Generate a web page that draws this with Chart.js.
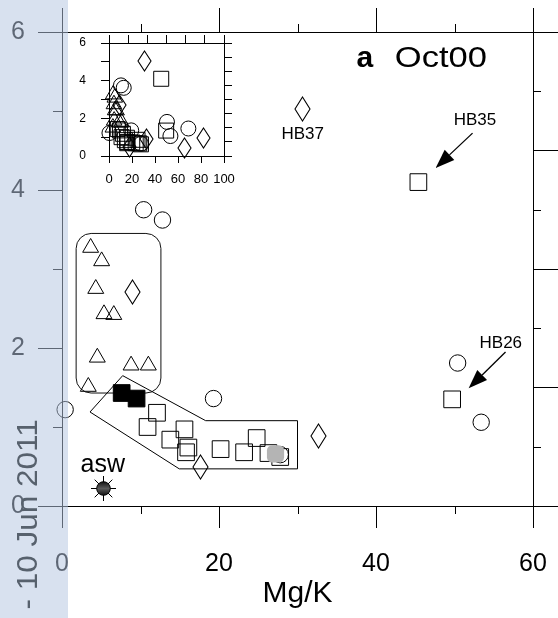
<!DOCTYPE html>
<html><head><meta charset="utf-8">
<script src="https://cdn.jsdelivr.net/npm/chart.js@4.4.1/dist/chart.umd.min.js"></script>
<style>
html,body{margin:0;padding:0;background:#fff;}
#wrap{position:relative;width:558px;height:618px;overflow:hidden;background:#fff;}
#main{position:absolute;left:0;top:0;}
#inset{position:absolute;left:70px;top:28px;}
</style></head><body>
<div id="wrap"><canvas id="main" width="558" height="618"></canvas><canvas id="inset" width="170" height="160"></canvas></div>
<script>
const FONT = "'Liberation Sans', Arial, Helvetica, sans-serif";

// ---------- data (x = Mg/K, y = ratio) ----------
const openCircles   = [[10.4,3.75],[12.8,3.62],[0.4,1.22],[19.3,1.36],[27.8,0.65],[50.4,1.81],[53.4,1.06]];
const openSquares   = [[45.4,4.10],[49.7,1.35],[12.1,1.18],[10.9,1.00],[15.6,0.97],[13.8,0.84],[16.1,0.74],[15.8,0.68],[20.2,0.72],[24.8,0.86],[23.2,0.68],[26.3,0.67],[27.8,0.62]];
const filledSquares = [[7.6,1.43],[9.5,1.36]];
const greyPoints    = [[27.2,0.66]];
const triangles     = [[3.65,3.27],[5.05,3.10],[4.3,2.75],[5.35,2.43],[6.6,2.42],[4.5,1.88],[8.8,1.78],[11.0,1.78],[3.35,1.51]];
const diamonds      = [[9.0,2.71],[30.7,5.03],[32.7,0.89],[17.6,0.49]];
const aswPoint      = [[5.3,0.22]];
// inset-only points (beyond the main x range)
const insetExtraCircles  = [[69,1.46]];
const insetExtraDiamonds = [[65.5,0.40],[82,0.93]];

// ---------- ticks ----------
const xMajorTicks = [0,20,40,60];
const xMinorTicks = [10,30,50];
const yMajorTicks = [0,2,4,6];
const yMinorTicks = [1,3,5];
const rightMajorTicks = [0,2,4,6,8];
const rightMinorTicks = [1,3,5,7];
const insetXTicks = [0,20,40,60,80,100];
const insetTopTicks = [0,10,20,30,40,50,60];
const insetYTicks = [0,1,2,3,4,5,6];
const insetYLabels = [0,2,4,6];
const insetRightTicks = [0,1,2,3,4,5,6,7,8];

// ---------- annotations (data units) ----------
const squareGroupOutline = [[7.73,1.65],[3.57,1.19],[14.94,0.47],[30.0,0.47],[30.0,1.08],[18.3,1.08],[7.73,1.65]];
const triangleGroupBox = [1.8,12.6,1.43,3.45]; // xmin,xmax,ymin,ymax
const sampleLabels = [['HB37',30.66,4.71],['HB35',52.6,4.88],['HB26',55.9,2.06]];
const arrows = [[52.3,4.72,47.6,4.28],[56.5,1.95,51.8,1.49]];
const panelTitle = [['a',37.5,5.56,'bold',1],['Oct00',42.4,5.56,'normal',1.15]];
const aswLabel = ['asw',5.2,0.52];
const sideNote = '- 10 Jun 2011';

function pts(a){return a.map(p=>({x:p[0],y:p[1]}));}
function makeDiamond(w,h){const c=document.createElement('canvas');c.width=w+2;c.height=h+2;const g=c.getContext('2d');
  g.strokeStyle='#000';g.lineWidth=1.1;g.beginPath();g.moveTo(c.width/2,1);g.lineTo(c.width-1,c.height/2);g.lineTo(c.width/2,c.height-1);g.lineTo(1,c.height/2);g.closePath();g.stroke();return c;}
function makeAsw(){const c=document.createElement('canvas');c.width=c.height=27;const g=c.getContext('2d');const cx=13.5,cy=13.5;
  g.strokeStyle='#000';g.lineWidth=1;
  for(let i=0;i<8;i++){const a=i*Math.PI/4;g.beginPath();g.moveTo(cx+Math.cos(a)*6,cy+Math.sin(a)*6);g.lineTo(cx+Math.cos(a)*12.5,cy+Math.sin(a)*12.5);g.stroke();}
  const gr=g.createLinearGradient(0,cy-7,0,cy+7);gr.addColorStop(0,'#111');gr.addColorStop(0.5,'#5a5a5a');gr.addColorStop(1,'#111');
  g.fillStyle=gr;g.beginPath();g.arc(cx,cy,6.8,0,Math.PI*2);g.fill();g.stroke();return c;}
function rrect(ctx,x,y,w,h,r){ctx.moveTo(x+r,y);ctx.arcTo(x+w,y,x+w,y+h,r);ctx.arcTo(x+w,y+h,x,y+h,r);ctx.arcTo(x,y+h,x,y,r);ctx.arcTo(x,y,x+w,y,r);ctx.closePath();}
function arrow(ctx,x1,y1,x2,y2){const a=Math.atan2(y2-y1,x2-x1),L=19,W=7;
  const bx=x2-Math.cos(a)*L,by=y2-Math.sin(a)*L;
  ctx.beginPath();ctx.moveTo(x1,y1);ctx.lineTo(bx,by);ctx.lineWidth=1.3;ctx.stroke();
  ctx.beginPath();ctx.moveTo(x2,y2);ctx.lineTo(bx+Math.sin(a)*W,by-Math.cos(a)*W);ctx.lineTo(bx-Math.sin(a)*W,by+Math.cos(a)*W);ctx.closePath();ctx.fill();}
function noPadH(s){s.paddingLeft=0;s.paddingRight=0;}
function noPadV(s){s.paddingTop=0;s.paddingBottom=0;}

const aswImg = makeAsw();
const diamondMain = makeDiamond(15,24);
const diamondInset = makeDiamond(13,20);
const open = {backgroundColor:'rgba(0,0,0,0)',borderColor:'#000',borderWidth:1,clip:false};

const crispImages = {id:'crispImages',
  beforeDatasetsDraw(chart){chart.ctx.imageSmoothingEnabled=false;},
  afterDatasetsDraw(chart){chart.ctx.imageSmoothingEnabled=true;}};

const mainAnno = {
  id:'mainAnno',
  beforeDatasetsDraw(chart){
    const {x,y}=chart.scales,ctx=chart.ctx;const [x0,x1,y0,y1]=triangleGroupBox;
    const l=x.getPixelForValue(x0),r=x.getPixelForValue(x1),t=y.getPixelForValue(y1),b=y.getPixelForValue(y0);
    ctx.save();ctx.strokeStyle='#111';ctx.lineWidth=1;ctx.beginPath();rrect(ctx,l,t,r-l,b-t,15);ctx.stroke();ctx.restore();
  },
  afterDatasetsDraw(chart){
    const {x,y}=chart.scales,ctx=chart.ctx;
    ctx.save();ctx.imageSmoothingEnabled=true;ctx.fillStyle='#000';ctx.strokeStyle='#000';
    ctx.font='17px '+FONT;ctx.textAlign='center';ctx.textBaseline='middle';
    sampleLabels.forEach(([t,vx,vy])=>ctx.fillText(t,x.getPixelForValue(vx),y.getPixelForValue(vy)));
    arrows.forEach(([a,b,c,d])=>arrow(ctx,x.getPixelForValue(a),y.getPixelForValue(b),x.getPixelForValue(c),y.getPixelForValue(d)));
    ctx.textAlign='left';ctx.textBaseline='alphabetic';
    panelTitle.forEach(([t,vx,vy,w,sx])=>{ctx.save();ctx.font=w+' 30px '+FONT;ctx.translate(x.getPixelForValue(vx),y.getPixelForValue(vy));ctx.scale(sx,1);ctx.fillText(t,0,0);ctx.restore();});
    ctx.font='25px '+FONT;ctx.textAlign='center';ctx.textBaseline='middle';
    ctx.fillText(aswLabel[0],x.getPixelForValue(aswLabel[1]),y.getPixelForValue(aswLabel[2]));
    ctx.restore();
  },
  afterDraw(chart){
    const {x,y,y2}=chart.scales,ctx=chart.ctx,a=chart.chartArea;
    ctx.save();ctx.strokeStyle='#000';ctx.lineWidth=1;ctx.beginPath();
    xMinorTicks.forEach(v=>{const p=Math.round(x.getPixelForValue(v))+0.5;ctx.moveTo(p,a.bottom);ctx.lineTo(p,a.bottom+8);ctx.moveTo(p,a.top);ctx.lineTo(p,a.top-8);});
    yMinorTicks.forEach(v=>{const p=Math.round(y.getPixelForValue(v))+0.5;ctx.moveTo(a.left,p);ctx.lineTo(a.left-9,p);});
    rightMinorTicks.forEach(v=>{const p=Math.round(y2.getPixelForValue(v))+0.5;ctx.moveTo(a.right,p);ctx.lineTo(a.right+8,p);});
    ctx.stroke();
    // light blue side strip
    ctx.fillStyle='rgba(180,198,225,0.52)';ctx.fillRect(0,0,68,chart.height);
    ctx.fillStyle='#57616d';ctx.font='30px '+FONT;ctx.translate(37,609.5);ctx.rotate(-Math.PI/2);ctx.scale(1.05,1);
    ctx.textAlign='left';ctx.textBaseline='alphabetic';ctx.fillText(sideNote,0,0);
    ctx.restore();
  }
};

new Chart(document.getElementById('main'),{
  type:'scatter',
  data:{datasets:[
    {data:pts(aswPoint),pointStyle:aswImg,pointRadius:13,borderColor:'#000',backgroundColor:'#000',clip:false},
    {data:pts(greyPoints),pointStyle:'rectRounded',pointRadius:10,backgroundColor:'#b4b4b4',borderColor:'#b4b4b4',borderWidth:0,clip:false},
    {data:pts(filledSquares),pointStyle:'rect',pointRadius:11.8,backgroundColor:'#000',borderColor:'#000',borderWidth:1,clip:false},
    Object.assign({data:pts(openSquares),pointStyle:'rect',pointRadius:11.8},open),
    Object.assign({data:pts(openCircles),pointStyle:'circle',pointRadius:8.2},open),
    Object.assign({data:pts(triangles),pointStyle:'triangle',pointRadius:9.2},open),
    Object.assign({data:pts(diamonds),pointStyle:diamondMain,pointRadius:12},open),
    {data:pts(squareGroupOutline),showLine:true,pointRadius:0,borderColor:'#000',backgroundColor:'rgba(0,0,0,0)',borderWidth:1,tension:0,fill:false}
  ]},
  options:{
    responsive:false,animation:false,devicePixelRatio:1,events:[],
    layout:{padding:0},
    plugins:{legend:{display:false},tooltip:{enabled:false},colors:{enabled:false}},
    scales:{
      x:{type:'linear',position:'bottom',min:0,max:60,
        afterBuildTicks:s=>{s.ticks=xMajorTicks.map(v=>({value:v}));},
        ticks:{font:{family:FONT,size:25},color:'#000',padding:21,maxRotation:0},
        grid:{drawOnChartArea:false,tickLength:22,tickColor:'#000',tickWidth:1},
        border:{color:'#000',width:1},
        title:{display:true,text:'Mg/K',font:{family:FONT,size:30},color:'#000',padding:{top:0,bottom:6}},
        afterFit:s=>{s.height=112;noPadH(s);}},
      x2:{type:'linear',position:'top',min:0,max:60,
        afterBuildTicks:s=>{s.ticks=xMajorTicks.map(v=>({value:v}));},
        ticks:{display:false},
        grid:{drawOnChartArea:false,tickLength:24,tickColor:'#000'},
        border:{color:'#000',width:1},
        afterFit:s=>{s.height=32;noPadH(s);}},
      y:{type:'linear',position:'left',min:0,max:6,
        afterBuildTicks:s=>{s.ticks=yMajorTicks.map(v=>({value:v}));},
        ticks:{font:{family:FONT,size:25},color:'#000',padding:13},
        grid:{drawOnChartArea:false,tickLength:24,tickColor:'#000'},
        border:{color:'#000',width:1},
        afterFit:s=>{s.width=62;noPadV(s);}},
      y2:{type:'linear',position:'right',min:0,max:8,
        afterBuildTicks:s=>{s.ticks=rightMajorTicks.map(v=>({value:v}));},
        ticks:{display:false},
        grid:{drawOnChartArea:false,tickLength:25,tickColor:'#000'},
        border:{color:'#000',width:1},
        afterFit:s=>{s.width=25;noPadV(s);}}
    }
  },
  plugins:[crispImages,mainAnno]
});

// ---------- inset ----------
new Chart(document.getElementById('inset'),{
  type:'scatter',
  data:{datasets:[
    Object.assign({data:pts(openSquares.concat(filledSquares)),pointStyle:'rect',pointRadius:10.6},open),
    Object.assign({data:pts(openCircles.concat(insetExtraCircles)),pointStyle:'circle',pointRadius:7.5},open),
    Object.assign({data:pts(triangles),pointStyle:'triangle',pointRadius:9},open),
    Object.assign({data:pts(diamonds.concat(insetExtraDiamonds)),pointStyle:diamondInset,pointRadius:10},open)
  ]},
  options:{
    responsive:false,animation:false,devicePixelRatio:1,events:[],
    layout:{padding:0},
    plugins:{legend:{display:false},tooltip:{enabled:false},colors:{enabled:false}},
    scales:{
      x:{type:'linear',position:'bottom',min:0,max:100,
        afterBuildTicks:s=>{s.ticks=insetXTicks.map(v=>({value:v}));},
        ticks:{font:{family:FONT,size:13},color:'#000',padding:9,maxRotation:0,autoSkip:false},
        grid:{drawOnChartArea:false,tickLength:7,tickColor:'#000'},
        border:{color:'#000'},afterFit:s=>{s.height=32;noPadH(s);}},
      x2:{type:'linear',position:'top',min:0,max:60,
        afterBuildTicks:s=>{s.ticks=insetTopTicks.map(v=>({value:v}));},
        ticks:{display:false},grid:{drawOnChartArea:false,tickLength:8,tickColor:'#000'},
        border:{color:'#000'},afterFit:s=>{s.height=15;noPadH(s);}},
      y:{type:'linear',position:'left',min:0,max:6,
        afterBuildTicks:s=>{s.ticks=insetYTicks.map(v=>({value:v}));},
        ticks:{font:{family:FONT,size:12},color:'#000',padding:15,autoSkip:false,
          callback:v=>insetYLabels.includes(v)?String(v):''},
        grid:{drawOnChartArea:false,tickLength:8,tickColor:'#000'},
        border:{color:'#000'},afterFit:s=>{s.width=39;noPadV(s);}},
      y2:{type:'linear',position:'right',min:0,max:8,
        afterBuildTicks:s=>{s.ticks=insetRightTicks.map(v=>({value:v}));},
        ticks:{display:false},grid:{drawOnChartArea:false,tickLength:8,tickColor:'#000'},
        border:{color:'#000'},afterFit:s=>{s.width=16;noPadV(s);}}
    }
  },
  plugins:[crispImages]
});
</script>
</body></html>
